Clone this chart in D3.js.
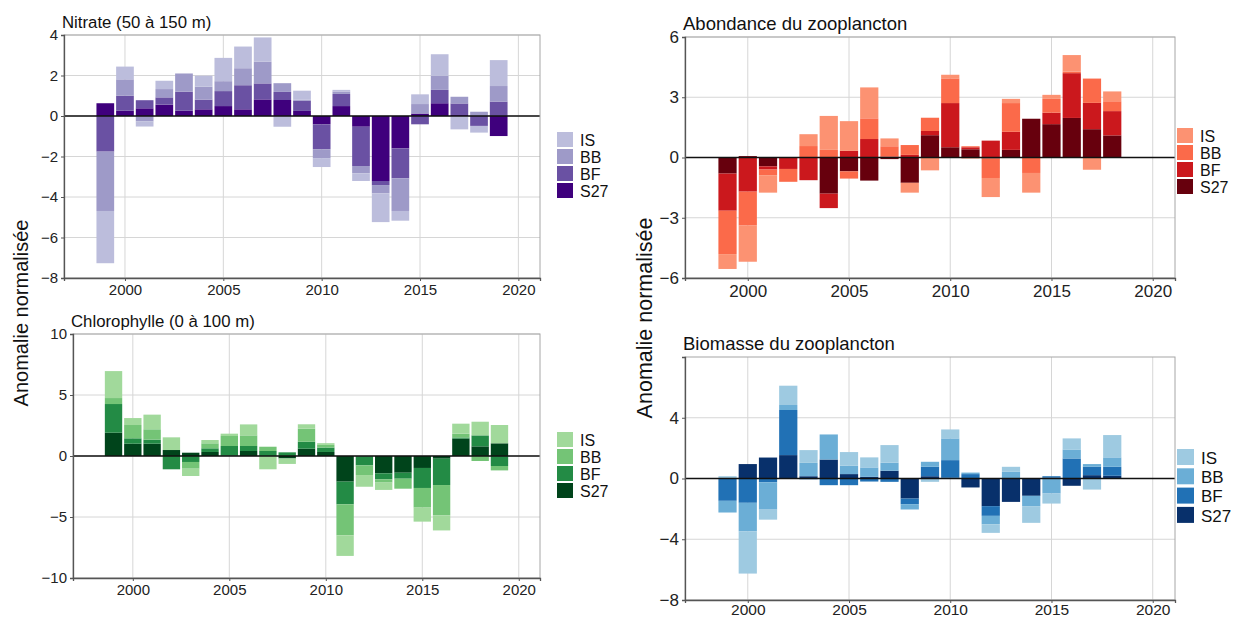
<!DOCTYPE html>
<html><head><meta charset="utf-8">
<script src="https://cdn.jsdelivr.net/npm/d3@7"></script>
<style>body{margin:0;background:#fff;} svg{display:block;font-family:"Liberation Sans",Arial,sans-serif;}</style>
</head><body>
<svg id="chart" width="1249" height="621"></svg>
<script>
// ---------- DATA ----------
const seriesKeys = ["S27", "BF", "BB", "IS"];     // stacking order from zero outward
const legendKeys = ["IS", "BB", "BF", "S27"];
const yearsLeft = d3.range(1999, 2020);
const yearsRight = d3.range(1999, 2019);
const xTicks = [2000, 2005, 2010, 2015, 2020];

const nitrateS27 = [0.63,0.26,0.38,0.56,0.26,0.33,0.49,0.33,0.82,0.79,0.25,-0.41,0.49,-0.53,-3.21,-1.6,0.12,0.63,0.05,0,-0.99];
const nitrateBF  = [-1.76,0.74,0.40,0.36,0.94,0.48,0.74,1.19,0.79,0.40,0.5,-1.23,0.6,-1.94,-0.2,-1.48,-0.41,0.66,0.57,-0.49,0.71];
const nitrateBB  = [-2.93,0.81,-0.27,0.41,0.9,0.64,0.49,0.84,1.07,0.43,0.05,-0.44,0.12,-0.36,-0.41,-1.61,0.47,0.69,0.33,0.21,0.77];
const nitrateIS  = [-2.58,0.63,-0.25,0.41,0,0.54,1.15,1.07,1.2,-0.53,0.45,-0.44,0.08,-0.38,-1.42,-0.48,0.48,1.07,-0.66,-0.33,1.28];
const nitrateTicks = [-8,-6,-4,-2,0,2,4];

const chloroS27 = [1.91,1.01,1.01,0.49,0.27,0.33,0.05,0.41,0,-0.2,0.6,0.33,-2.1,-0.05,-1.42,-1.37,-0.98,-0.22,1.42,0.79,1.04];
const chloroBF  = [2.35,0.44,0.33,-1.09,-0.49,0.3,0.77,0.41,0.41,0.3,0.57,0.36,-1.86,-0.72,-0.49,-0.49,-1.64,-2.16,0.1,0.9,-0.82];
const chloroBB  = [0.49,1.09,0.85,0,-0.55,0.41,0.82,0.87,0.35,0,1.07,0.22,-2.54,-0.79,-0.27,-0.82,-1.61,-2.49,0.31,-0.41,-0.36];
const chloroIS  = [2.21,0.57,1.2,1.04,-0.6,0.27,0.19,0.9,-1.09,-0.45,0.36,0.14,-1.69,-0.96,-0.6,0,-1.15,-1.23,0.82,1.12,1.5];
const chloroTicks = [-10,-5,0,5,10];

const abondS27 = [-0.8,0.07,-0.44,0,0,-1.8,-0.69,-1.15,-0.08,-1.26,1.11,0.51,0.41,-0.05,0.38,1.93,1.66,1.97,1.41,1.1];
const abondBF  = [-1.85,-1.7,-0.16,-0.57,-1.13,-0.72,0.33,0.92,0.05,0.13,0.21,2.2,0.1,0.84,0.9,0,0.57,2.23,1.31,1.21];
const abondBB  = [-2.16,-1.69,-0.28,-0.64,0.57,0.38,-0.36,1.03,0.51,0.49,0.66,1.23,0.05,-0.97,1.43,-0.77,0.69,0.08,1.21,0.49];
const abondIS  = [-0.74,-1.8,-0.87,0,0.59,1.69,1.48,1.54,0.39,-0.49,-0.64,0.18,-0.05,-0.95,0.21,-0.98,0.2,0.82,-0.61,0.49];
const abondTicks = [-6,-3,0,3,6];

const biomS27 = [0,0.95,1.38,1.54,0.15,1.25,0.29,0.11,0.51,-1.32,0.15,0.05,-0.59,-1.82,-1.54,-1.14,0.05,-0.48,0.22,0.18];
const biomBF  = [-1.47,-1.6,-0.25,2.97,-0.05,-0.44,-0.44,-0.2,-0.22,-0.37,0.62,1.16,0.29,-0.64,0,0,0.1,1.32,0.55,0.59];
const biomBB  = [-0.77,-1.87,-1.8,0.33,0.88,1.65,0.55,0.62,0.53,-0.35,0.33,1.43,0.1,-0.55,0.44,-0.68,-0.99,0.59,0.18,0.62];
const biomIS  = [0.15,-2.79,-0.66,1.27,0.84,0,0.9,0.66,1.16,0,-0.22,0.59,0,-0.57,0.33,-1.1,-0.66,0.73,-0.73,1.47];
const biomTicks = [-8,-4,0,4];

const purples = {IS:"#bcbddc", BB:"#9e9ac8", BF:"#6a51a3", S27:"#3f007d"};
const greens  = {IS:"#a1d99b", BB:"#74c476", BF:"#238b45", S27:"#00441b"};
const reds    = {IS:"#fc9272", BB:"#fb6a4a", BF:"#cb181d", S27:"#67000d"};
const blues   = {IS:"#9ecae1", BB:"#6baed6", BF:"#2171b5", S27:"#08306b"};

// ---------- DRAW ----------
const svg = d3.select("#chart");

function rows(years, s27, bf, bb, is) {
  return years.map((y, i) => ({year: y, S27: s27[i], BF: bf[i], BB: bb[i], IS: is[i]}));
}

function panel(o) {
  const g = svg.append("g");
  const x = d3.scaleLinear().domain([1996.9, 2021.1]).range([o.left, o.right]);
  const y = d3.scaleLinear().domain(o.yDomain).range([o.bottom, o.top]);
  const step = x(1) - x(0);
  const bw = step * 0.9;

  // grid
  g.append("g").selectAll("line").data(o.yTicks).join("line")
    .attr("x1", o.left).attr("x2", o.right).attr("y1", d => y(d)).attr("y2", d => y(d))
    .attr("stroke", "#d6d6d6").attr("stroke-width", 1);
  g.append("g").selectAll("line").data(xTicks).join("line")
    .attr("x1", d => x(d)).attr("x2", d => x(d)).attr("y1", o.top).attr("y2", o.bottom)
    .attr("stroke", "#d6d6d6").attr("stroke-width", 1);

  // bars
  const stack = d3.stack().keys(seriesKeys).offset(d3.stackOffsetDiverging);
  const layers = stack(o.data);
  g.append("g").selectAll("g").data(layers).join("g")
    .attr("fill", d => o.colors[d.key])
    .selectAll("rect").data(d => d).join("rect")
    .attr("x", d => x(d.data.year) - bw / 2)
    .attr("width", bw)
    .attr("y", d => y(Math.max(d[0], d[1])))
    .attr("height", d => Math.abs(y(d[0]) - y(d[1])));

  // zero line
  g.append("line").attr("x1", o.left).attr("x2", o.right).attr("y1", y(0)).attr("y2", y(0))
    .attr("stroke", "#111").attr("stroke-width", 1.6);

  // border
  g.append("rect").attr("x", o.left).attr("y", o.top).attr("width", o.right - o.left).attr("height", o.bottom - o.top)
    .attr("fill", "none").attr("stroke", "#a6a6a6").attr("stroke-width", 1);

  // axes
  const ax = g.append("g").attr("transform", `translate(0,${o.bottom})`)
    .call(d3.axisBottom(x).tickValues(xTicks).tickFormat(d3.format("d")).tickSize(3).tickPadding(o.xPad));
  const ay = g.append("g").attr("transform", `translate(${o.left},0)`)
    .call(d3.axisLeft(y).tickValues(o.yTicks).tickSize(3).tickPadding(3));
  [ax, ay].forEach(a => {
    a.select(".domain").attr("stroke", "#555").attr("stroke-width", 1.3);
    a.selectAll(".tick line").attr("stroke", "#555");
    a.selectAll("text").attr("fill", "#222").style("font-family", "'Liberation Sans',Arial,sans-serif");
  });
  ay.selectAll("text").style("font-size", o.tickFont + "px");
  ax.selectAll("text").style("font-size", o.xFont + "px");

  // title
  g.append("text").attr("x", o.left - 2).attr("y", o.top - 7).text(o.title)
    .attr("fill", "#111").style("font-size", o.titleFont + "px");

  // legend
  const lg = g.append("g");
  legendKeys.forEach((k, i) => {
    lg.append("rect").attr("x", o.legX).attr("y", o.legY + i * o.legStep)
      .attr("width", o.legSize).attr("height", o.legSize - 1).attr("fill", o.colors[k]);
    lg.append("text").attr("x", o.legX + o.legSize + 7).attr("y", o.legY + i * o.legStep + o.legSize / 2)
      .attr("dy", "0.36em").text(k).attr("fill", "#111").style("font-size", o.legFont + "px");
  });
}

panel({left: 64, right: 540, top: 35, bottom: 278, yDomain: [-8, 4], yTicks: nitrateTicks,
  data: rows(yearsLeft, nitrateS27, nitrateBF, nitrateBB, nitrateIS), colors: purples,
  title: "Nitrate (50 à 150 m)", titleFont: 16.8, tickFont: 15, xFont: 15, xPad: 3, legFont: 16,
  legX: 557, legY: 132, legStep: 17, legSize: 16});
panel({left: 73, right: 540, top: 334, bottom: 578, yDomain: [-10, 10], yTicks: chloroTicks,
  data: rows(yearsLeft, chloroS27, chloroBF, chloroBB, chloroIS), colors: greens,
  title: "Chlorophylle (0 à 100 m)", titleFont: 16.8, tickFont: 15, xFont: 15, xPad: 3, legFont: 16,
  legX: 557, legY: 432, legStep: 17, legSize: 16});
panel({left: 685, right: 1175, top: 37, bottom: 278, yDomain: [-6, 6], yTicks: abondTicks,
  data: rows(yearsRight, abondS27, abondBF, abondBB, abondIS), colors: reds,
  title: "Abondance du zooplancton", titleFont: 18.5, tickFont: 17, xFont: 17, xPad: 4, legFont: 16,
  legX: 1177, legY: 128, legStep: 17, legSize: 16});
panel({left: 685, right: 1175, top: 357, bottom: 600, yDomain: [-8, 8], yTicks: biomTicks,
  data: rows(yearsRight, biomS27, biomBF, biomBB, biomIS), colors: blues,
  title: "Biomasse du zooplancton", titleFont: 18.5, tickFont: 17, xFont: 15.5, xPad: 1, legFont: 17,
  legX: 1177, legY: 449, legStep: 19.3, legSize: 17});

// y-axis titles
svg.append("text").attr("transform", "translate(28,313) rotate(-90)").attr("text-anchor", "middle")
  .text("Anomalie normalisée").attr("fill", "#111").style("font-size", "20px");
svg.append("text").attr("transform", "translate(652,318) rotate(-90)").attr("text-anchor", "middle")
  .text("Anomalie normalisée").attr("fill", "#111").style("font-size", "21.5px");
</script>
</body></html>
